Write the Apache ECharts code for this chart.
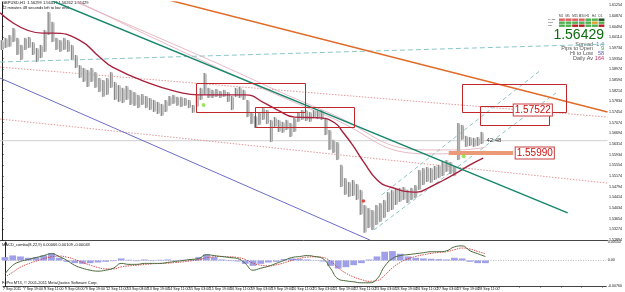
<!DOCTYPE html>
<html><head><meta charset="utf-8">
<script src="https://cdn.jsdelivr.net/npm/echarts@6/dist/echarts.min.js"></script>
<style>html,body{margin:0;padding:0;background:#fff}#c{width:625px;height:292px}</style>
</head><body><div id="c"></div>
<script>
// ---- price bars (3-hour groups of H1 bars), high / low ----
const barHours = 3;
const highs = [1.6001,1.6009,1.6019,1.6044,1.6009,1.5984,1.6009,1.6012,1.5994,1.5973,
1.5984,1.6037,1.6101,1.6066,1.6009,1.6001,1.6009,1.6001,1.5984,1.5948,
1.5912,1.5902,1.5895,1.5902,1.5887,1.5866,1.5859,1.5866,1.5887,1.5852,
1.5841,1.5831,1.5838,1.5824,1.5816,1.5806,1.5809,1.5802,1.5795,1.5788,
1.5781,1.5774,1.5788,1.5802,1.5806,1.5799,1.5799,1.5795,1.5788,1.5770,
1.5806,1.5831,1.5884,1.5831,1.5824,1.5827,1.5820,1.5824,1.5816,1.5802,
1.5831,1.5834,1.5824,1.5788,1.5745,1.5731,1.5745,1.5759,1.5752,1.5717,
1.5727,1.5717,1.5710,1.5717,1.5706,1.5724,1.5745,1.5752,1.5752,1.5745,
1.5752,1.5749,1.5752,1.5724,1.5681,1.5646,1.5638,1.5557,1.5510,1.5496,
1.5503,1.5489,1.5468,1.5414,1.5403,1.5396,1.5414,1.5421,1.5432,1.5460,
1.5468,1.5475,1.5475,1.5478,1.5468,1.5475,1.5485,1.5539,1.5546,1.5549,
1.5546,1.5553,1.5557,1.5567,1.5574,1.5567,1.5553,1.5706,1.5699,1.5660,
1.5656,1.5653,1.5656,1.5674];
const lows = [1.5966,1.5973,1.5977,1.5994,1.5948,1.5930,1.5966,1.5973,1.5948,1.5923,
1.5937,1.5959,1.6019,1.5994,1.5966,1.5959,1.5966,1.5959,1.5930,1.5902,
1.5866,1.5852,1.5834,1.5852,1.5831,1.5816,1.5799,1.5806,1.5831,1.5788,
1.5781,1.5777,1.5788,1.5770,1.5767,1.5759,1.5770,1.5759,1.5752,1.5745,
1.5738,1.5731,1.5745,1.5767,1.5774,1.5767,1.5763,1.5767,1.5759,1.5742,
1.5763,1.5788,1.5806,1.5795,1.5795,1.5799,1.5795,1.5799,1.5781,1.5752,
1.5799,1.5795,1.5788,1.5727,1.5702,1.5688,1.5699,1.5717,1.5702,1.5638,
1.5692,1.5674,1.5671,1.5681,1.5656,1.5674,1.5710,1.5717,1.5713,1.5710,
1.5724,1.5720,1.5717,1.5663,1.5610,1.5599,1.5574,1.5478,1.5450,1.5443,
1.5446,1.5432,1.5379,1.5315,1.5332,1.5325,1.5343,1.5354,1.5368,1.5389,
1.5396,1.5414,1.5425,1.5432,1.5421,1.5432,1.5439,1.5468,1.5485,1.5496,
1.5493,1.5503,1.5510,1.5517,1.5532,1.5524,1.5517,1.5574,1.5646,1.5621,
1.5624,1.5621,1.5624,1.5631];

// ---- moving averages [hour, price] ----
const maRed = [[-1.5,1.6098],[31,1.6026],[39,1.6026],[59.5,1.6001],[75,1.5941],[85,1.5905],
[113,1.5848],[136,1.5816],[151,1.5806],[187,1.5806],[202,1.5777],[212,1.5752],[225,1.5727],
[245,1.5724],[256,1.5706],[262,1.5674],[269.5,1.5628],[278.6,1.5564],[288.5,1.5503],
[298.5,1.5478],[319,1.5460],[329,1.5478],[339.7,1.5503],[349.6,1.5528],[359.5,1.5556],[370,1.5581]];
const maPinkA = [[50,1.6150],[151,1.5948],[250,1.5745],[327,1.5610],[350,1.5610],[372,1.5620]];
const maPinkB = [[53,1.6150],[151,1.5934],[250,1.5731],[327,1.5596],[350,1.5598],[372,1.5606]];

// ---- drawn trend lines [hour, price] ----
const trendOrange = [[128,1.6144],[465.6,1.5745]];
const trendTeal = [[37,1.6144],[435,1.5386]];
const trendBlue = [[-1.5,1.5866],[283,1.5289]];
const dashTeal = [[-1.5,1.5923],[465.6,1.5987]];
const dotPink1 = [[-1.5,1.5905],[465.6,1.5727]];
const dotPink2 = [[-1.5,1.5720],[465.6,1.5492]];
const chanLow = [[286,1.5325],[426,1.5813]];
const chanHigh = [[292,1.5450],[414.5,1.5895]];
const zoneBar = [[343.5,1.5599],[393,1.5599]];

// ---- rectangles [h1, p1, h2, p2] ----
const boxes = [[149,1.5848,233,1.5745],[194.7,1.5763,271,1.5692],[353.4,1.5845,433.6,1.5745],[367.2,1.5766,420.6,1.5699]];
// ---- price tags [hour, price, text] ----
const priceTags = [[393.5,1.57522,'1.57522'],[395,1.55990,'1.55990']];
const greenMarks = [[355,1.5588],[155,1.5770]];
const redMarks = [[278,1.5428]];
const lastPrice = 1.56429;
const lastHour = 372.5;
const timerText = '42:48';

// ---- MACD (6-hour steps) ----
const macdStep = 6;
const macdLine = [-0.00405,-0.00145,-0.00029,0.00029,0.00087,0.00145,0.00202,0.00116,0,-0.00145,
-0.00231,-0.00289,-0.00318,-0.00289,-0.00231,-0.00087,-0.00116,-0.00116,-0.00087,-0.00087,
-0.00087,-0.00058,-0.00029,0,0.00029,0.00058,0.00173,0.00145,0.00116,0.00087,
0.00058,-0.00087,-0.00289,-0.00231,-0.00173,-0.00087,0,0.00087,0.00116,0.00145,
0.00116,0.00058,-0.00231,-0.00549,-0.00607,-0.00636,-0.00665,-0.00665,-0.00549,-0.00173,
0.00058,0.00145,0.00173,0.00202,0.00231,0.00260,0.00260,0.00289,0.00405,0.00434,
0.00289,0.00202,0.00116];
const signalLine = [-0.0050,-0.0035,-0.0020,-0.0010,-0.0002,0.0005,0.0011,0.0013,0.0010,0.0003,
-0.0006,-0.0014,-0.0021,-0.0025,-0.0025,-0.0019,-0.0016,-0.0014,-0.0012,-0.0010,
-0.0009,-0.0008,-0.0006,-0.0004,-0.0001,0.0002,0.0008,0.0011,0.0012,0.0011,
0.0009,0.0003,-0.0008,-0.0014,-0.0016,-0.0013,-0.0007,0.0000,0.0006,0.0010,
0.0011,0.0009,-0.0002,-0.0022,-0.0038,-0.0049,-0.0057,-0.0062,-0.0060,-0.0044,
-0.0022,-0.0006,0.0005,0.0012,0.0017,0.0021,0.0024,0.0026,0.0032,0.0037,
0.0034,0.0027,0.0020];
const histo = [0.0010,0.0015,0.0012,0.0008,0.0010,0.0015,0.0022,0.0008,-0.0004,-0.0008,
-0.0010,-0.0008,-0.0006,-0.0004,-0.0002,0.0006,0.0002,-0.0002,0.0003,-0.0002,
0.0002,0.0003,-0.0002,0.0002,0.0004,0.0010,0.0018,0.0010,0.0003,-0.0002,
-0.0003,-0.0010,-0.0016,-0.0010,-0.0006,-0.0004,0.0004,0.0006,0.0004,0.0003,
0.0001,-0.0003,-0.0016,-0.0024,-0.0020,-0.0014,-0.0008,0.0003,0.0012,0.0026,
0.0028,0.0020,0.0012,0.0008,0.0006,0.0005,0.0004,0.0003,0.0008,0.0006,
-0.0004,-0.0008,-0.0008];

// ---- axis ticks ----
const timeLabels = ['7 Sep 2011','7 Sep 19:00','8 Sep 11:00','9 Sep 03:00','9 Sep 19:00','12 Sep 11:00',
'13 Sep 03:00','13 Sep 19:00','14 Sep 11:00','15 Sep 03:00','15 Sep 19:00','16 Sep 11:00',
'19 Sep 03:00','19 Sep 19:00','20 Sep 11:00','21 Sep 03:00','21 Sep 19:00','22 Sep 11:00',
'23 Sep 03:00','23 Sep 19:00','26 Sep 11:00','27 Sep 03:00','27 Sep 19:00','28 Sep 11:00'];
const timeLabelStep = 16;
const priceMin = 1.52894, priceMax = 1.61367, priceStep = 0.0038;
const macdMin = -0.0076, macdMax = 0.0055;
const hourMin = -1.53, hourMax = 465.6;

// ---- texts ----
const headerLine1 = 'GBPUSD,H1  1.56299 1.56437 1.56262 1.56429';
const headerLine2 = '42 minutes 48 seconds left to bar end';
const macdTitle = 'MACD_combo(8,22,9) 0.00066 0.00109 -0.00043';
const copyright = 'FxPro MT4, \u00a9 2001-2011 MetaQuotes Software Corp.';
const tfHeads = ['M1','M5','M15','M30','H1','H4','D1'];
const tfRows = ['MACD','STR','RSI'];
const tfColors = [
 ['#e06060','#e06060','#e06060','#e06060','#50b050','#50b050','#1d4d1d'],
 ['#50b050','#50b050','#50b050','#50b050','#50b050','#e0a030','#50b050'],
 ['#50b050','#50b050','#b02020','#b02020','#50b050','#50b050','#b02020']];
const statNames = ['Spread','Pips to Open','Hi to Low','Daily Av'];
const statValues = ['1.4','9','58','164'];
const statColors = ['#5070a0','#30a030','#6060c0','#c03060'];

// ================= build =================
const chart = echarts.init(document.getElementById('c'), null, {renderer:'canvas'});
const FONT = 'Liberation Sans, Arial, sans-serif';
const bars = highs.map((h,i)=>[i*barHours, h, lows[i]]);
const macdData = macdLine.map((v,i)=>[i*macdStep, v]);
const sigData = signalLine.map((v,i)=>[i*macdStep, v]);
const histData = histo.map((v,i)=>[i*macdStep, v]);

function lineS(data, color, width, type, extra){
  return Object.assign({type:'line', xAxisIndex:0, yAxisIndex:0, data, symbol:'none', silent:true,
    lineStyle:{color, width, type:type||'solid'}, animation:false, z:3}, extra||{});
}

const graphics = [
  {type:'text', left:2, top:1, style:{text:headerLine1, fill:'#111', font:'4px '+FONT}},
  {type:'text', left:2, top:6, style:{text:headerLine2, fill:'#111', font:'4px '+FONT}},
  {type:'text', left:2, top:243, style:{text:macdTitle, fill:'#111', font:'4px '+FONT}},
  {type:'text', left:2, top:281, style:{text:copyright, fill:'#111', font:'4px '+FONT}},
  {type:'text', right:21, top:28, style:{text:'1.56429', fill:'#0f6b0f', font:'14px '+FONT}}
];
tfHeads.forEach((t,i)=>graphics.push({type:'text', left:559+i*6.6, top:14.5, style:{text:t, fill:'#333', font:'3px '+FONT}}));
tfRows.forEach((r,ri)=>{
  graphics.push({type:'text', left:548, top:18.2+ri*3, style:{text:r, fill:'#333', font:'2.5px '+FONT}});
  tfColors[ri].forEach((c,ci)=>graphics.push({type:'rect', shape:{x:559+ci*6.6, y:18.5+ri*3, width:5.8, height:2.4}, style:{fill:c}}));
});
statNames.forEach((n,i)=>{
  graphics.push({type:'text', x:593, y:44+i*4.8, style:{text:n, fill:'#555', font:'5.5px '+FONT, align:'right', verticalAlign:'middle'}});
  graphics.push({type:'text', x:604, y:44+i*4.8, style:{text:statValues[i], fill:statColors[i], font:'5.5px '+FONT, align:'right', verticalAlign:'middle'}});
});

const option = {
  animation:false,
  backgroundColor:'#ffffff',
  grid:[{left:0, right:13, top:2, height:238}, {left:0, right:13, top:242, height:44}],
  xAxis:[
    {type:'value', gridIndex:0, min:hourMin, max:hourMax, axisLabel:{show:false}, axisTick:{show:false}, splitLine:{show:false},
     axisLine:{show:true, onZero:false, lineStyle:{color:'#444', width:1}}},
    {type:'value', gridIndex:1, min:hourMin, max:hourMax, interval:timeLabelStep, splitLine:{show:false},
     axisLine:{show:true, onZero:false, lineStyle:{color:'#444', width:1}},
     axisTick:{show:true, length:1.5, lineStyle:{color:'#444'}},
     axisLabel:{show:true, margin:1, fontSize:3.6, color:'#111', fontFamily:FONT, align:'left', showMaxLabel:false,
       formatter:(v)=>{const i=Math.round((v-hourMin)/timeLabelStep); return timeLabels[i]||'';}}}
  ],
  yAxis:[
    {type:'value', gridIndex:0, position:'right', min:priceMin, max:priceMax, interval:priceStep, splitLine:{show:false},
     axisLine:{show:true, lineStyle:{color:'#222', width:1}}, axisTick:{show:true, length:1.5, lineStyle:{color:'#222'}},
     axisLabel:{fontSize:3.6, color:'#111', margin:1.5, fontFamily:FONT, showMaxLabel:false, formatter:(v)=>v.toFixed(5)}},
    {type:'value', gridIndex:1, position:'right', min:macdMin, max:macdMax, interval:-macdMin, splitLine:{show:false},
     axisLine:{show:true, lineStyle:{color:'#222', width:1}}, axisTick:{show:true, length:1.5, lineStyle:{color:'#222'}},
     axisLabel:{fontSize:3.6, color:'#111', margin:1.5, fontFamily:FONT, formatter:(v)=> v===0?'0.00':v.toFixed(5)}}
  ],
  graphic: graphics,
  series:[
    lineS([[hourMin,lastPrice],[hourMax,lastPrice]], '#cfcfcf', 1, 'solid', {z:1,
      markLine:{silent:true, symbol:'none', lineStyle:{opacity:0}, data:[{yAxis:lastPrice}],
        label:{position:'end', formatter:lastPrice.toFixed(5), color:'#fff', backgroundColor:'#000', fontSize:3.6, padding:[0.8,1], distance:1.5, fontFamily:FONT}}}),
    lineS(dotPink1, '#e49a9a', 1, [1.5,1.5]),
    lineS(dotPink2, '#e49a9a', 1, [1.5,1.5]),
    lineS(dashTeal, '#8cc6c6', 1, [5,3]),
    lineS(chanLow, '#8cc6c6', 1, [4,3]),
    lineS(chanHigh, '#8cc6c6', 1, [4,3]),
    lineS(trendBlue, '#6c6cc8', 1),
    lineS(maPinkA, '#e0a8b8', 0.8, 'solid', {smooth:true}),
    lineS(maPinkB, '#e0a8b8', 0.8, 'solid', {smooth:true}),
    {type:'custom', xAxisIndex:0, yAxisIndex:0, data:bars, z:4, silent:true,
     renderItem:(params, api)=>{
       const t=api.value(0), hi=api.value(1), lo=api.value(2);
       const a=api.coord([t,hi]), b=api.coord([t,lo]);
       return {type:'group', children:[
         {type:'rect', shape:{x:a[0]-1.6, y:a[1], width:3.2, height:Math.max(1,b[1]-a[1])}, style:{fill:'#cfcfcf'}},
         {type:'line', shape:{x1:a[0]-0.6, y1:a[1], x2:a[0]-0.6, y2:b[1]}, style:{stroke:'#707070', lineWidth:0.8}},
         {type:'line', shape:{x1:a[0]+1.2, y1:a[1]+1.5, x2:a[0]+1.2, y2:b[1]-1}, style:{stroke:'#8c8c8c', lineWidth:0.6}}
       ]};
     }},
    lineS(maRed, '#a8203c', 1.4, 'solid', {smooth:true, z:5}),
    lineS(trendTeal, '#17876c', 1.5, 'solid', {z:5}),
    lineS(trendOrange, '#e06a28', 1.5, 'solid', {z:5}),
    lineS(zoneBar, '#eb9a78', 4, 'solid', {z:5}),
    {type:'custom', xAxisIndex:0, yAxisIndex:0, data:boxes, z:6, silent:true,
     renderItem:(params, api)=>{
       const a=api.coord([api.value(0),api.value(1)]), b=api.coord([api.value(2),api.value(3)]);
       return {type:'rect', shape:{x:Math.round(a[0])+0.5, y:Math.round(a[1])+0.5, width:Math.round(b[0]-a[0]), height:Math.round(b[1]-a[1])},
         style:{fill:null, stroke:'#c0282c', lineWidth:1}};
     }},
    {type:'scatter', xAxisIndex:0, yAxisIndex:0, data:greenMarks, symbol:'circle', symbolSize:4, itemStyle:{color:'#86e03a'}, z:7, silent:true},
    {type:'scatter', xAxisIndex:0, yAxisIndex:0, data:redMarks, symbol:'circle', symbolSize:3.5, itemStyle:{color:'#e02020'}, z:7, silent:true},
    {type:'custom', xAxisIndex:0, yAxisIndex:0, data:priceTags, z:8, silent:true,
     renderItem:(params, api)=>{
       const p=api.coord([api.value(0),api.value(1)]);
       return {type:'text', x:p[0], y:p[1], style:{text:priceTags[params.dataIndex][2], fill:'#cc1010', font:'10px '+FONT,
         align:'left', verticalAlign:'middle', backgroundColor:'#fff', borderColor:'#c84040', borderWidth:1, padding:[1,1,0,1]}};
     }},
    {type:'custom', xAxisIndex:0, yAxisIndex:0, data:[[lastHour,lastPrice]], z:8, silent:true,
     renderItem:(params, api)=>{
       const p=api.coord([api.value(0),api.value(1)]);
       return {type:'text', x:p[0], y:p[1], style:{text:timerText, fill:'#333', font:'6px '+FONT, align:'left', verticalAlign:'middle'}};
     }},
    {type:'custom', xAxisIndex:1, yAxisIndex:1, data:histData, z:2, silent:true,
     renderItem:(params, api)=>{
       const a=api.coord([api.value(0),api.value(1)]), b=api.coord([api.value(0),0]);
       const w=api.size([macdStep,0])[0];
       return {type:'rect', shape:{x:a[0]-w/2+0.5, y:Math.min(a[1],b[1]), width:w-1, height:Math.abs(b[1]-a[1])}, style:{fill:'#a0a0e8'}};
     }},
    {type:'line', xAxisIndex:1, yAxisIndex:1, data:[[hourMin,0],[lastHour,0],[hourMax,0]], symbol:'none', silent:true, lineStyle:{color:'#aaa', width:0.8, type:[1,1.5]}, z:1},
    {type:'line', xAxisIndex:1, yAxisIndex:1, data:sigData, symbol:'none', smooth:true, silent:true, lineStyle:{color:'#d04040', width:0.9, type:[1.5,1]}, z:3},
    {type:'line', xAxisIndex:1, yAxisIndex:1, data:macdData, symbol:'none', smooth:true, silent:true, lineStyle:{color:'#4c6a3a', width:1}, z:4}
  ]
};
chart.setOption(option);
</script>
</body></html>
